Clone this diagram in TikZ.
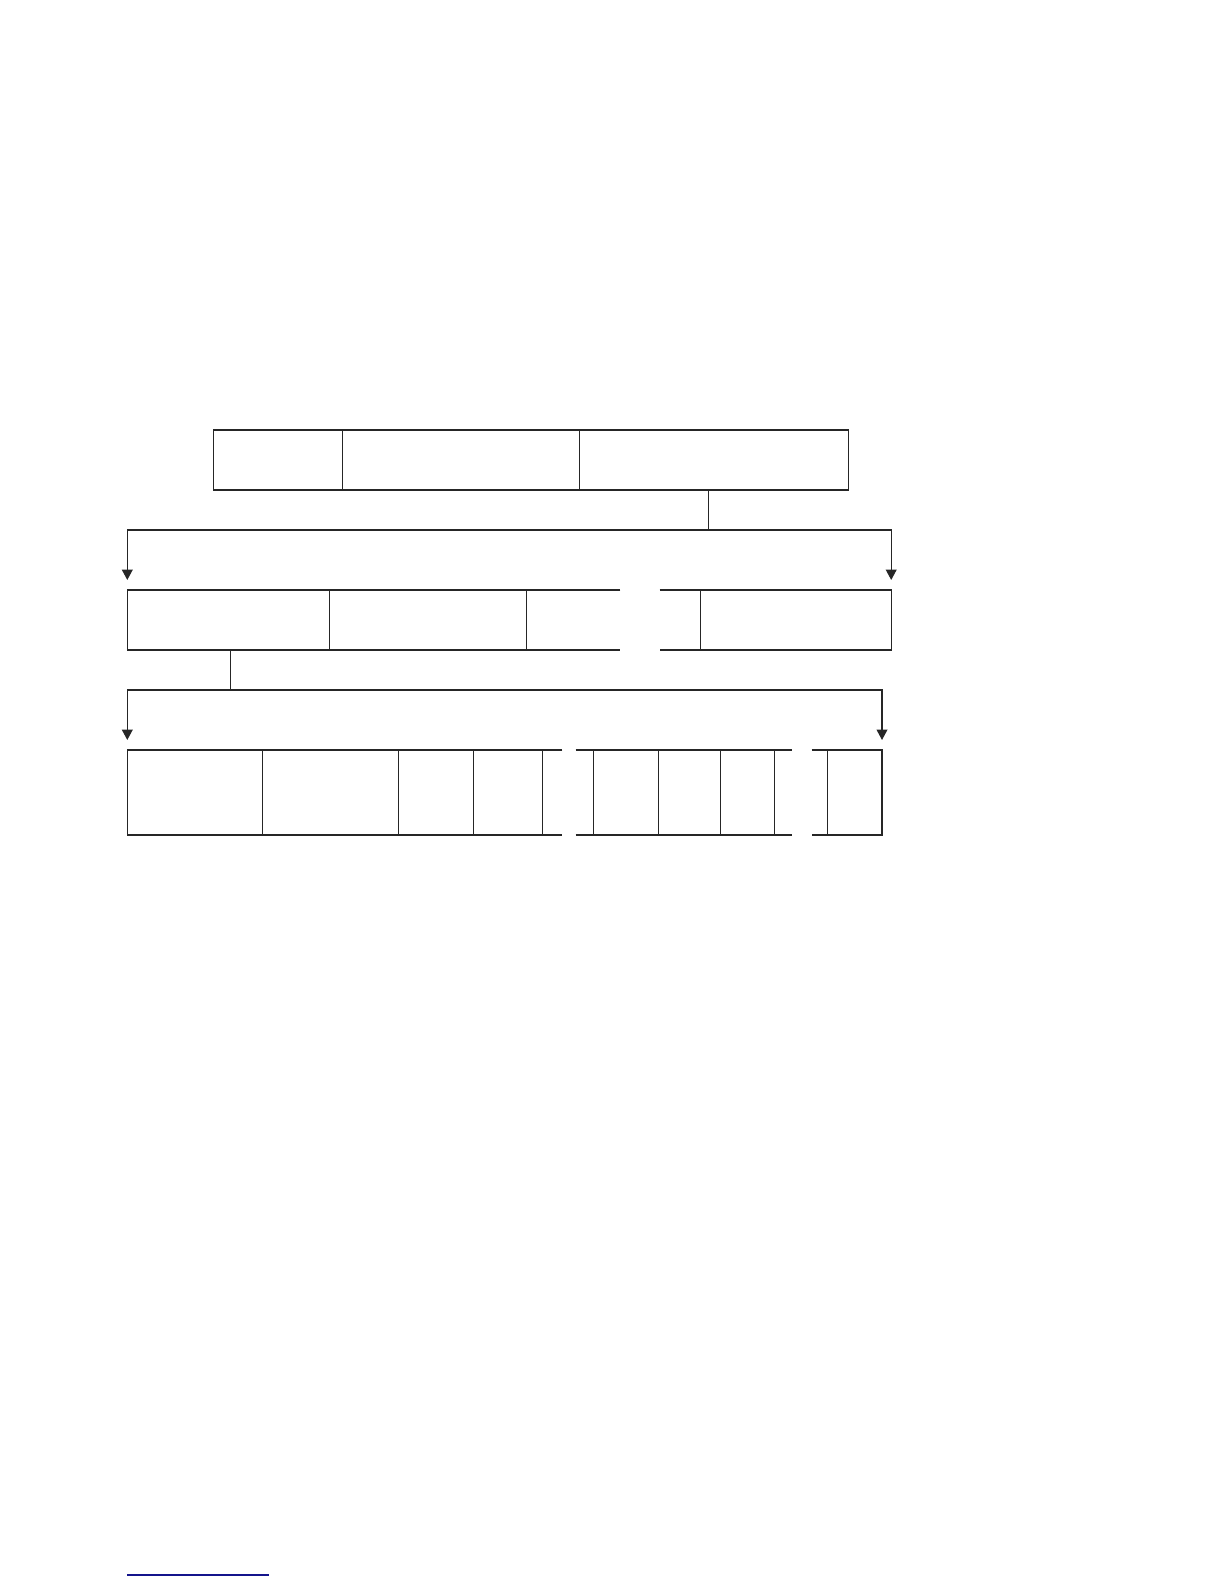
\documentclass[tikz,border=0pt]{standalone}
\usetikzlibrary{arrows.meta}
\definecolor{notecol}{RGB}{20,20,140}
\begin{document}
\begin{tikzpicture}[x=0.5pt,y=0.5pt,yscale=-1,xscale=1,
	frame/.style={line width=0.65pt,draw=black!85},
	downarrow/.style={frame,-{Triangle[width=5.4pt,length=5.2pt]}}]
	\useasboundingbox (0,0) rectangle (1224,1584);

	%Shape: Rectangle (top row)
	\draw [frame] (213.5,430) rectangle (848.4,490) ;
	%Straight Lines
	\draw [frame] (342.5,430) -- (342.5,490) ;
	\draw [frame] (579.6,430) -- (579.6,490) ;

	% connector points
	\coordinate (topout) at (708.6,490);
	\coordinate (topjoin) at (708.6,530);
	\coordinate (leftbend) at (127.3,530);
	\coordinate (lefttip) at (127.3,580);
	\coordinate (righttip) at (891.2,580);
	%Straight Lines
	\draw [frame] (topout) -- (topjoin) ;
	\draw [downarrow] (topjoin) -- (leftbend) -- (lefttip) ;
	\draw [downarrow] (topjoin) -| (righttip) ;

	%Shape: middle row, left part
	\draw [frame] (620.4,590) -- (127.3,590) -- (127.3,650) -- (620.4,650) ;
	\draw [frame] (329.7,590) -- (329.7,650) ;
	\draw [frame] (526.6,590) -- (526.6,650) ;
	%Shape: middle row, right part
	\draw [frame] (659.7,590) -- (891.2,590) -- (891.2,650) -- (659.7,650) ;
	\draw [frame] (700.5,590) -- (700.5,650) ;

	% connector points
	\coordinate (midout) at (230.8,650);
	\coordinate (midjoin) at (230.8,690);
	\coordinate (leftbendb) at (127.3,690);
	\coordinate (lefttipb) at (127.3,740);
	\coordinate (righttipb) at (882,740);
	%Straight Lines
	\draw [frame] (midout) -- (midjoin) ;
	\draw [downarrow] (midjoin) -- (leftbendb) -- (lefttipb) ;
	\draw [downarrow] (midjoin) -| (righttipb) ;

	%Shape: bottom row, left part
	\draw [frame] (562.3,750) -- (127.3,750) -- (127.3,835) -- (562.3,835) ;
	\foreach \xx in {262.4,398.6,473.6,542.4}
		\draw [frame] (\xx,750) -- (\xx,835) ;
	%Shape: bottom row, middle part
	\draw [frame] (575.5,750) -- (791.8,750) ;
	\draw [frame] (575.5,835) -- (791.8,835) ;
	\foreach \xx in {593.4,658.7,720.4,774.4}
		\draw [frame] (\xx,750) -- (\xx,835) ;
	%Shape: bottom row, right part
	\draw [frame] (811.7,750) -- (882,750) -- (882,835) -- (811.7,835) ;
	\draw [frame] (827.5,750) -- (827.5,835) ;

	%Straight Lines (footnote rule)
	\draw [notecol,line width=0.6pt] (127.3,1575) -- (268.7,1575) ;

\end{tikzpicture}
\end{document}
